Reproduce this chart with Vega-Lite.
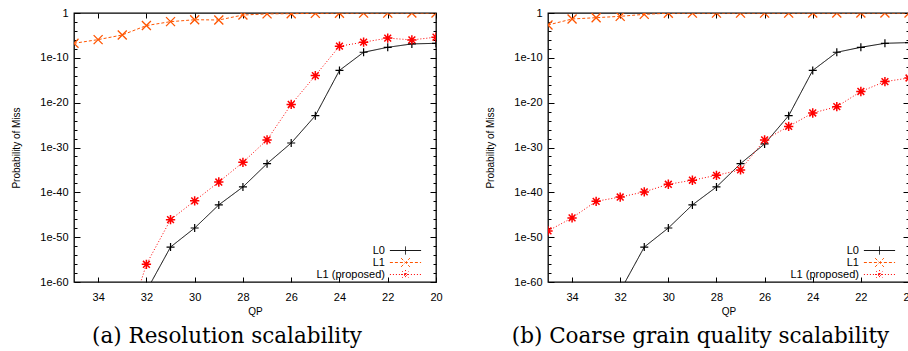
{
  "$schema": "https://vega.github.io/schema/vega-lite/v6.json",
  "background": "white",
  "padding": {"left": 11, "top": 6, "right": 0, "bottom": 0},
  "spacing": 42,
  "datasets": {
    "pts": [
      {"panel": "a", "series": "L1", "qp": 35, "p": 1.74e-7},
      {"panel": "a", "series": "L1", "qp": 34, "p": 1.15e-6},
      {"panel": "a", "series": "L1", "qp": 33, "p": 1.26e-5},
      {"panel": "a", "series": "L1", "qp": 32, "p": 1.58e-3},
      {"panel": "a", "series": "L1", "qp": 31, "p": 1.17e-2},
      {"panel": "a", "series": "L1", "qp": 30, "p": 3.16e-2},
      {"panel": "a", "series": "L1", "qp": 29, "p": 2.75e-2},
      {"panel": "a", "series": "L1", "qp": 28, "p": 0.355},
      {"panel": "a", "series": "L1", "qp": 27, "p": 0.63},
      {"panel": "a", "series": "L1", "qp": 26, "p": 0.71},
      {"panel": "a", "series": "L1", "qp": 25, "p": 0.83},
      {"panel": "a", "series": "L1", "qp": 24, "p": 0.89},
      {"panel": "a", "series": "L1", "qp": 23, "p": 0.93},
      {"panel": "a", "series": "L1", "qp": 22, "p": 0.95},
      {"panel": "a", "series": "L1", "qp": 21, "p": 0.96},
      {"panel": "a", "series": "L1", "qp": 20, "p": 0.97},
      {"panel": "a", "series": "L0", "qp": 32, "p": 1e-62},
      {"panel": "a", "series": "L0", "qp": 31, "p": 6.3e-53},
      {"panel": "a", "series": "L0", "qp": 30, "p": 1.1e-48},
      {"panel": "a", "series": "L0", "qp": 29, "p": 1.58e-43},
      {"panel": "a", "series": "L0", "qp": 28, "p": 1.58e-39},
      {"panel": "a", "series": "L0", "qp": 27, "p": 2.5e-34},
      {"panel": "a", "series": "L0", "qp": 26, "p": 1e-29},
      {"panel": "a", "series": "L0", "qp": 25, "p": 1.26e-23},
      {"panel": "a", "series": "L0", "qp": 24, "p": 1.58e-13},
      {"panel": "a", "series": "L0", "qp": 23, "p": 1.74e-9},
      {"panel": "a", "series": "L0", "qp": 22, "p": 2.24e-8},
      {"panel": "a", "series": "L0", "qp": 21, "p": 1.26e-7},
      {"panel": "a", "series": "L0", "qp": 20, "p": 1.74e-7},
      {"panel": "a", "series": "L1 (proposed)", "qp": 33, "p": 1e-73},
      {"panel": "a", "series": "L1 (proposed)", "qp": 32, "p": 8.9e-57},
      {"panel": "a", "series": "L1 (proposed)", "qp": 31, "p": 7.9e-47},
      {"panel": "a", "series": "L1 (proposed)", "qp": 30, "p": 1.26e-42},
      {"panel": "a", "series": "L1 (proposed)", "qp": 29, "p": 2e-38},
      {"panel": "a", "series": "L1 (proposed)", "qp": 28, "p": 5e-34},
      {"panel": "a", "series": "L1 (proposed)", "qp": 27, "p": 5e-29},
      {"panel": "a", "series": "L1 (proposed)", "qp": 26, "p": 4e-21},
      {"panel": "a", "series": "L1 (proposed)", "qp": 25, "p": 1.1e-14},
      {"panel": "a", "series": "L1 (proposed)", "qp": 24, "p": 4e-8},
      {"panel": "a", "series": "L1 (proposed)", "qp": 23, "p": 3.16e-7},
      {"panel": "a", "series": "L1 (proposed)", "qp": 22, "p": 2.5e-6},
      {"panel": "a", "series": "L1 (proposed)", "qp": 21, "p": 1e-6},
      {"panel": "a", "series": "L1 (proposed)", "qp": 20, "p": 4e-6},
      {"panel": "b", "series": "L1", "qp": 35, "p": 2.1e-3},
      {"panel": "b", "series": "L1", "qp": 34, "p": 4.6e-2},
      {"panel": "b", "series": "L1", "qp": 33, "p": 9.1e-2},
      {"panel": "b", "series": "L1", "qp": 32, "p": 0.18},
      {"panel": "b", "series": "L1", "qp": 31, "p": 0.5},
      {"panel": "b", "series": "L1", "qp": 30, "p": 0.9},
      {"panel": "b", "series": "L1", "qp": 29, "p": 0.92},
      {"panel": "b", "series": "L1", "qp": 28, "p": 0.93},
      {"panel": "b", "series": "L1", "qp": 27, "p": 0.94},
      {"panel": "b", "series": "L1", "qp": 26, "p": 0.95},
      {"panel": "b", "series": "L1", "qp": 25, "p": 0.95},
      {"panel": "b", "series": "L1", "qp": 24, "p": 0.96},
      {"panel": "b", "series": "L1", "qp": 23, "p": 0.96},
      {"panel": "b", "series": "L1", "qp": 22, "p": 0.97},
      {"panel": "b", "series": "L1", "qp": 21, "p": 0.97},
      {"panel": "b", "series": "L1", "qp": 20, "p": 0.97},
      {"panel": "b", "series": "L0", "qp": 32, "p": 1e-62},
      {"panel": "b", "series": "L0", "qp": 31, "p": 6.3e-53},
      {"panel": "b", "series": "L0", "qp": 30, "p": 1.1e-48},
      {"panel": "b", "series": "L0", "qp": 29, "p": 1.58e-43},
      {"panel": "b", "series": "L0", "qp": 28, "p": 1.58e-39},
      {"panel": "b", "series": "L0", "qp": 27, "p": 2.5e-34},
      {"panel": "b", "series": "L0", "qp": 26, "p": 6.3e-30},
      {"panel": "b", "series": "L0", "qp": 25, "p": 1.26e-23},
      {"panel": "b", "series": "L0", "qp": 24, "p": 1.58e-13},
      {"panel": "b", "series": "L0", "qp": 23, "p": 1.74e-9},
      {"panel": "b", "series": "L0", "qp": 22, "p": 2.24e-8},
      {"panel": "b", "series": "L0", "qp": 21, "p": 1.74e-7},
      {"panel": "b", "series": "L0", "qp": 20, "p": 2.5e-7},
      {"panel": "b", "series": "L1 (proposed)", "qp": 35, "p": 2.5e-49},
      {"panel": "b", "series": "L1 (proposed)", "qp": 34, "p": 2e-46},
      {"panel": "b", "series": "L1 (proposed)", "qp": 33, "p": 1e-42},
      {"panel": "b", "series": "L1 (proposed)", "qp": 32, "p": 8.9e-42},
      {"panel": "b", "series": "L1 (proposed)", "qp": 31, "p": 1.26e-40},
      {"panel": "b", "series": "L1 (proposed)", "qp": 30, "p": 6.3e-39},
      {"panel": "b", "series": "L1 (proposed)", "qp": 29, "p": 5e-38},
      {"panel": "b", "series": "L1 (proposed)", "qp": 28, "p": 6.3e-37},
      {"panel": "b", "series": "L1 (proposed)", "qp": 27, "p": 1e-35},
      {"panel": "b", "series": "L1 (proposed)", "qp": 26, "p": 5e-29},
      {"panel": "b", "series": "L1 (proposed)", "qp": 25, "p": 5e-26},
      {"panel": "b", "series": "L1 (proposed)", "qp": 24, "p": 5e-23},
      {"panel": "b", "series": "L1 (proposed)", "qp": 23, "p": 1.26e-21},
      {"panel": "b", "series": "L1 (proposed)", "qp": 22, "p": 3.16e-18},
      {"panel": "b", "series": "L1 (proposed)", "qp": 21, "p": 5e-16},
      {"panel": "b", "series": "L1 (proposed)", "qp": 20, "p": 3.16e-15}
    ]
  },
  "hconcat": [
    {
      "width": 362, "height": 269,
      "data": {"name": "pts"},
      "transform": [{"filter": "datum.panel == 'a'"}],
      "title": {"text": "(a) Resolution scalability", "orient": "bottom", "frame": "bounds", "anchor": "middle", "font": "DejaVu Serif", "fontSize": 21.5, "fontWeight": "normal", "offset": 10},
      "layer": [
        {
          "mark": {"type": "line", "clip": true, "strokeWidth": 1},
          "encoding": {
            "x": {"field": "qp", "type": "quantitative", "scale": {"domain": [20, 35], "reverse": true, "nice": false, "zero": false},
                  "axis": {"orient": "bottom", "title": "QP", "values": [20, 22, 24, 26, 28, 30, 32, 34], "tickSize": -5, "labelPadding": 14, "titlePadding": 4}},
            "y": {"field": "p", "type": "quantitative", "scale": {"type": "log", "domain": [1e-60, 1], "nice": false},
                  "axis": {"orient": "left", "title": "Probability of Miss",
                           "values": [1, 1e-2, 1e-4, 1e-6, 1e-8, 1e-10, 1e-12, 1e-14, 1e-16, 1e-18, 1e-20, 1e-22, 1e-24, 1e-26, 1e-28, 1e-30, 1e-32, 1e-34, 1e-36, 1e-38, 1e-40, 1e-42, 1e-44, 1e-46, 1e-48, 1e-50, 1e-52, 1e-54, 1e-56, 1e-58, 1e-60],
                           "labelExpr": "datum.value >= 1 ? '1' : (round(log(datum.value)/LN10) % 10 == 0 ? '1e' + round(log(datum.value)/LN10) : '')",
                           "tickSize": {"condition": {"test": "round(log(datum.value)/LN10) % 10 == 0", "value": -6}, "value": -3},
                           "labelPadding": 12, "titlePadding": 18}},
            "color": {"field": "series", "type": "nominal",
                      "scale": {"domain": ["L0", "L1", "L1 (proposed)"], "range": ["#000000", "#ff5500", "#ff0000"]},
                      "legend": {"title": null, "orient": "none", "legendX": 326, "legendY": 232, "symbolSize": 64, "labelAlign": "right", "labelOffset": -26, "rowPadding": -2, "symbolStrokeWidth": 1,
                                 "encode": {"symbols": {"update": {
                                   "size": {"value": 64},
                                   "fill": {"value": "transparent"},
                                   "stroke": {"signal": "datum.value == 'L0' ? '#000000' : (datum.value == 'L1' ? '#ff5500' : '#ff0000')"},
                                   "shape": {"signal": "datum.value == 'L0' ? 'M-3.9,0L3.9,0M0,-1L0,1' : (datum.value == 'L1' ? 'M-3.9,0L3.9,0M-1.1,-1.1L1.1,1.1M-1.1,1.1L1.1,-1.1' : 'M-3.9,0L3.9,0M-1.1,0L1.1,0M0,-1.1L0,1.1M-0.85,-0.85L0.85,0.85M-0.85,0.85L0.85,-0.85')"},
                                   "strokeDash": {"signal": "datum.value == 'L0' ? [1,0] : (datum.value == 'L1' ? [3,2] : [1,2])"}}}}}},
            "strokeDash": {"field": "series", "type": "nominal", "scale": {"domain": ["L0", "L1", "L1 (proposed)"], "range": [[1, 0], [3, 2], [1, 2]]}, "legend": null}
          }
        },
        {
          "transform": [{"filter": "datum.series == 'L0'"}],
          "mark": {"type": "point", "clip": true, "filled": false, "strokeWidth": 1.2, "size": 64, "opacity": 1, "color": "#000000", "shape": "M-1,0L1,0M0,-1L0,1"},
          "encoding": {
            "x": {"field": "qp", "type": "quantitative", "axis": {"orient": "top", "title": null, "labels": false, "values": [20, 22, 24, 26, 28, 30, 32, 34], "tickSize": -5, "domain": false}},
            "y": {"field": "p", "type": "quantitative",
                  "axis": {"orient": "right", "title": null, "labels": false, "domain": false,
                           "values": [1, 1e-2, 1e-4, 1e-6, 1e-8, 1e-10, 1e-12, 1e-14, 1e-16, 1e-18, 1e-20, 1e-22, 1e-24, 1e-26, 1e-28, 1e-30, 1e-32, 1e-34, 1e-36, 1e-38, 1e-40, 1e-42, 1e-44, 1e-46, 1e-48, 1e-50, 1e-52, 1e-54, 1e-56, 1e-58, 1e-60],
                           "tickSize": {"condition": {"test": "round(log(datum.value)/LN10) % 10 == 0", "value": -6}, "value": -3}}}
          }
        },
        {
          "transform": [{"filter": "datum.series == 'L1'"}],
          "mark": {"type": "point", "clip": true, "filled": false, "strokeWidth": 1.3, "size": 81, "opacity": 1, "color": "#ff5500", "shape": "M-1,-1L1,1M-1,1L1,-1"},
          "encoding": {
            "x": {"field": "qp", "type": "quantitative", "axis": null},
            "y": {"field": "p", "type": "quantitative", "axis": null}
          }
        },
        {
          "transform": [{"filter": "datum.series == 'L1 (proposed)'"}],
          "mark": {"type": "point", "clip": true, "filled": false, "strokeWidth": 1.5, "size": 72, "opacity": 1, "color": "#ff0000", "shape": "M-1.1,0L1.1,0M0,-1.1L0,1.1M-0.8,-0.8L0.8,0.8M-0.8,0.8L0.8,-0.8"},
          "encoding": {
            "x": {"field": "qp", "type": "quantitative", "axis": null},
            "y": {"field": "p", "type": "quantitative", "axis": null}
          }
        }
      ],
      "resolve": {"axis": {"x": "independent", "y": "independent"}}
    },
    {
      "width": 361, "height": 269,
      "data": {"name": "pts"},
      "transform": [{"filter": "datum.panel == 'b'"}],
      "title": {"text": "(b) Coarse grain quality scalability", "orient": "bottom", "frame": "bounds", "anchor": "middle", "font": "DejaVu Serif", "fontSize": 21.5, "fontWeight": "normal", "offset": 10},
      "layer": [
        {
          "mark": {"type": "line", "clip": true, "strokeWidth": 1},
          "encoding": {
            "x": {"field": "qp", "type": "quantitative", "scale": {"domain": [20, 35], "reverse": true, "nice": false, "zero": false},
                  "axis": {"orient": "bottom", "title": "QP", "values": [20, 22, 24, 26, 28, 30, 32, 34], "tickSize": -5, "labelPadding": 14, "titlePadding": 4}},
            "y": {"field": "p", "type": "quantitative", "scale": {"type": "log", "domain": [1e-60, 1], "nice": false},
                  "axis": {"orient": "left", "title": "Probability of Miss",
                           "values": [1, 1e-2, 1e-4, 1e-6, 1e-8, 1e-10, 1e-12, 1e-14, 1e-16, 1e-18, 1e-20, 1e-22, 1e-24, 1e-26, 1e-28, 1e-30, 1e-32, 1e-34, 1e-36, 1e-38, 1e-40, 1e-42, 1e-44, 1e-46, 1e-48, 1e-50, 1e-52, 1e-54, 1e-56, 1e-58, 1e-60],
                           "labelExpr": "datum.value >= 1 ? '1' : (round(log(datum.value)/LN10) % 10 == 0 ? '1e' + round(log(datum.value)/LN10) : '')",
                           "tickSize": {"condition": {"test": "round(log(datum.value)/LN10) % 10 == 0", "value": -6}, "value": -3},
                           "labelPadding": 12, "titlePadding": 18}},
            "color": {"field": "series", "type": "nominal",
                      "scale": {"domain": ["L0", "L1", "L1 (proposed)"], "range": ["#000000", "#ff5500", "#ff0000"]},
                      "legend": {"title": null, "orient": "none", "legendX": 326, "legendY": 232, "symbolSize": 64, "labelAlign": "right", "labelOffset": -26, "rowPadding": -2, "symbolStrokeWidth": 1,
                                 "encode": {"symbols": {"update": {
                                   "size": {"value": 64},
                                   "fill": {"value": "transparent"},
                                   "stroke": {"signal": "datum.value == 'L0' ? '#000000' : (datum.value == 'L1' ? '#ff5500' : '#ff0000')"},
                                   "shape": {"signal": "datum.value == 'L0' ? 'M-3.9,0L3.9,0M0,-1L0,1' : (datum.value == 'L1' ? 'M-3.9,0L3.9,0M-1.1,-1.1L1.1,1.1M-1.1,1.1L1.1,-1.1' : 'M-3.9,0L3.9,0M-1.1,0L1.1,0M0,-1.1L0,1.1M-0.85,-0.85L0.85,0.85M-0.85,0.85L0.85,-0.85')"},
                                   "strokeDash": {"signal": "datum.value == 'L0' ? [1,0] : (datum.value == 'L1' ? [3,2] : [1,2])"}}}}}},
            "strokeDash": {"field": "series", "type": "nominal", "scale": {"domain": ["L0", "L1", "L1 (proposed)"], "range": [[1, 0], [3, 2], [1, 2]]}, "legend": null}
          }
        },
        {
          "transform": [{"filter": "datum.series == 'L0'"}],
          "mark": {"type": "point", "clip": true, "filled": false, "strokeWidth": 1.2, "size": 64, "opacity": 1, "color": "#000000", "shape": "M-1,0L1,0M0,-1L0,1"},
          "encoding": {
            "x": {"field": "qp", "type": "quantitative", "axis": {"orient": "top", "title": null, "labels": false, "values": [20, 22, 24, 26, 28, 30, 32, 34], "tickSize": -5, "domain": false}},
            "y": {"field": "p", "type": "quantitative",
                  "axis": {"orient": "right", "title": null, "labels": false, "domain": false,
                           "values": [1, 1e-2, 1e-4, 1e-6, 1e-8, 1e-10, 1e-12, 1e-14, 1e-16, 1e-18, 1e-20, 1e-22, 1e-24, 1e-26, 1e-28, 1e-30, 1e-32, 1e-34, 1e-36, 1e-38, 1e-40, 1e-42, 1e-44, 1e-46, 1e-48, 1e-50, 1e-52, 1e-54, 1e-56, 1e-58, 1e-60],
                           "tickSize": {"condition": {"test": "round(log(datum.value)/LN10) % 10 == 0", "value": -6}, "value": -3}}}
          }
        },
        {
          "transform": [{"filter": "datum.series == 'L1'"}],
          "mark": {"type": "point", "clip": true, "filled": false, "strokeWidth": 1.3, "size": 81, "opacity": 1, "color": "#ff5500", "shape": "M-1,-1L1,1M-1,1L1,-1"},
          "encoding": {
            "x": {"field": "qp", "type": "quantitative", "axis": null},
            "y": {"field": "p", "type": "quantitative", "axis": null}
          }
        },
        {
          "transform": [{"filter": "datum.series == 'L1 (proposed)'"}],
          "mark": {"type": "point", "clip": true, "filled": false, "strokeWidth": 1.5, "size": 72, "opacity": 1, "color": "#ff0000", "shape": "M-1.1,0L1.1,0M0,-1.1L0,1.1M-0.8,-0.8L0.8,0.8M-0.8,0.8L0.8,-0.8"},
          "encoding": {
            "x": {"field": "qp", "type": "quantitative", "axis": null},
            "y": {"field": "p", "type": "quantitative", "axis": null}
          }
        }
      ],
      "resolve": {"axis": {"x": "independent", "y": "independent"}}
    }
  ],
  "resolve": {"scale": {"color": "independent", "strokeDash": "independent"}, "legend": {"color": "independent"}},
  "config": {
    "font": "Liberation Sans",
    "view": {"stroke": "#000000", "strokeWidth": 1.3},
    "axis": {"domain": false, "grid": false, "tickColor": "#000000", "tickWidth": 1, "labelFont": "Liberation Sans", "labelFontSize": 11, "labelColor": "#000000", "titleFont": "Liberation Sans", "titleFontSize": 10, "titleFontWeight": "normal", "titleColor": "#000000", "labelFlush": false, "labelOverlap": false},
    "legend": {"labelFont": "Liberation Sans", "labelFontSize": 11, "labelColor": "#000000", "padding": 0}
  }
}
